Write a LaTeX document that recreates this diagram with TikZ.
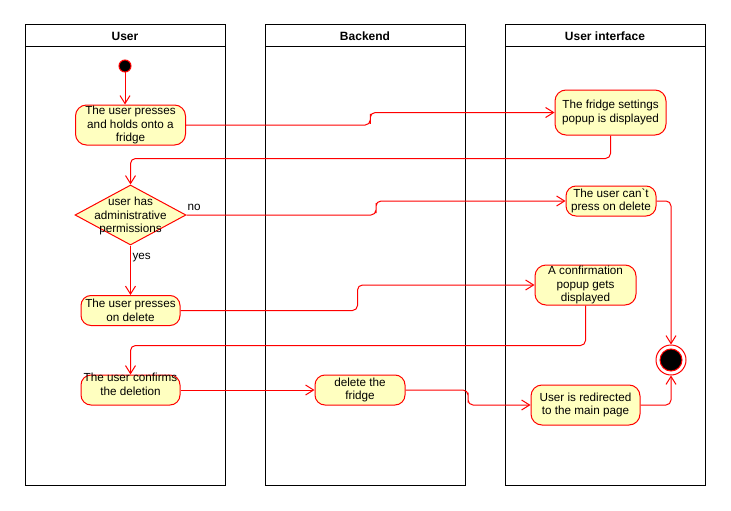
\documentclass[tikz,border=0pt]{standalone}
\usepackage{fontspec}
\setmainfont{Liberation Sans}
\usetikzlibrary{arrows.meta,calc,shapes.geometric}
\definecolor{actfill}{HTML}{FFFFC0}
\definecolor{actline}{HTML}{FF0000}
\begin{document}
\begin{tikzpicture}[x=1pt,y=-1pt,line width=1pt,
  lane/.style={draw=black,fill=white,line width=1pt},
  lanehead/.style={font=\fontsize{12}{14}\selectfont\bfseries},
  act/.style={draw=actline,fill=actfill,rounded corners=11pt,inner sep=0pt,
    align=center,font=\fontsize{11.7}{13.8}\selectfont},
  txt/.style={align=center,font=\fontsize{11.7}{13.8}\selectfont,inner sep=0pt},
  flow/.style={draw=actline,rounded corners=5pt,
    -{Straight Barb[length=8pt,width=10pt,line width=1pt]}}]
\useasboundingbox (0,0) rectangle (731,511);

% swimlanes
\foreach \x/\name/\title in {25/user/User,265/backend/Backend,505/ui/User interface}{
  \draw[lane] (\x,25) rectangle ++(200,460);
  \draw[lane] (\x,25) rectangle ++(200,22);
  \node[lanehead] (\name) at (\x+100,36.5) {\title};
}

% start and end
\node[circle,draw=actline,fill=black,minimum size=12pt,inner sep=0pt] (start) at (125,66) {};
\node[circle,draw=actline,fill=white,minimum size=30pt,inner sep=0pt] (end) at (671,360) {};
\node[circle,draw=actline,fill=black,minimum size=22pt,inner sep=0pt] (endcore) at (end) {};

% activities
\node[act,minimum width=110pt,minimum height=40pt] (n1) at (130.5,125) {The user presses\\and holds onto a\\fridge};
\node[act,minimum width=111pt,minimum height=45pt] (n2) at (610.5,112.5) {The fridge settings\\popup is displayed};
\node[draw=actline,fill=actfill,diamond,minimum width=111pt,minimum height=60pt,inner sep=0pt] (d) at (130.5,215) {};
\node[txt] (dt) at (130.5,216) {user has\\administrative\\permissions};
\node[act,minimum width=90pt,minimum height=30pt,rounded corners=10pt] (n3) at (611,201) {The user can\textasciigrave t\\press on delete};
\node[act,minimum width=99pt,minimum height=30pt,rounded corners=10pt] (n4) at (130.5,310.5) {The user presses\\on delete};
\node[act,minimum width=101pt,minimum height=40pt] (n5) at (585.5,285) {A confirmation\\popup gets\\displayed};
\node[act,minimum width=99pt,minimum height=30pt,rounded corners=10pt] (n6) at (130.5,390) {};
\node[txt] (n6t) at (130.5,384) {The user confirms\\the deletion};
\node[act,minimum width=90pt,minimum height=30pt,rounded corners=10pt] (n7) at (360,390) {delete the\\fridge};
\node[act,minimum width=109pt,minimum height=40pt] (n8) at (585.5,405) {User is redirected\\to the main page};

% control flow
\draw[flow] (start.south) -- (start.south |- n1.north);
\draw[flow] (n1.east) -| ($(n1.east)!.5!(n2.west)$) |- (n2.west);
\draw[flow] (n2.south) -- ++(0,23) -| (d.north);
\draw[flow] (d.east) -| ($(d.east)!.5!(n3.west)$) |- (n3.west);
\node[txt,anchor=west] (no) at (187,207) {no};
\draw[flow] (n3.east) -| (end.north);
\draw[flow] (d.south) -- (d.south |- n4.north);
\node[txt,anchor=west] (yes) at (132,258) {yes};
\draw[flow] (n4.east) -| ($(n4.east)!.5!(n5.west)$) |- (n5.west);
\draw[flow] (n5.south) -- ++(0,40) -| (n6.north);
\draw[flow] (n6.east) -- (n7.west);
\draw[flow] (n7.east) -| ($(n7.east)!.5!(n8.west)$) |- (n8.west);
\draw[flow] (n8.east) -| (end.south);
\end{tikzpicture}
\end{document}
